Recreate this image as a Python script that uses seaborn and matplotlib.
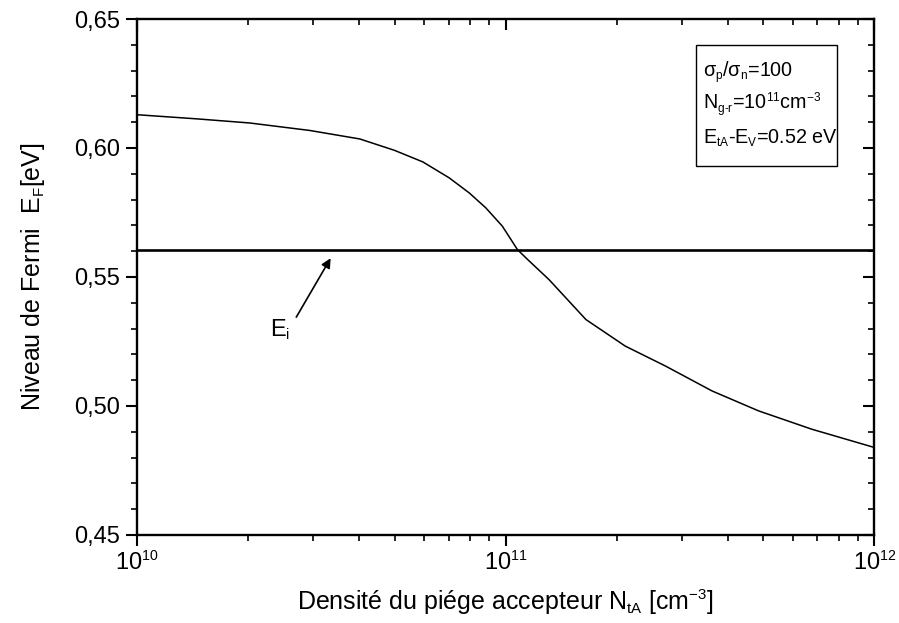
import matplotlib
matplotlib.use('Agg')
import matplotlib.pyplot as plt
import matplotlib.ticker as mticker
import matplotlib._mathtext as mathtext_internals
from matplotlib.patches import Rectangle
import numpy as np
import pandas as pd
import seaborn as sns

# Values
density = [1.0e10, 1.45e10, 2.02e10, 2.94e10, 4.02e10, 4.99e10, 5.96e10, 7.03e10,
           7.96e10, 8.83e10, 9.79e10, 1.076e11, 1.146e11, 1.31e11, 1.65e11,
           2.11e11, 2.71e11, 3.63e11, 4.85e11, 6.76e11, 1.0e12]
fermi_level = [0.6129, 0.6113, 0.6097, 0.6068, 0.6035, 0.5991, 0.5946, 0.5884,
               0.5826, 0.5768, 0.5697, 0.5606, 0.5568, 0.5490, 0.5335,
               0.5232, 0.5155, 0.5058, 0.4981, 0.4910, 0.4839]
intrinsic_level = 0.5605
x_range = [1e10, 1e12]
y_range = [0.45, 0.65]
y_ticks = [0.45, 0.50, 0.55, 0.60, 0.65]
info_lines = [r'$\sigma_p/\sigma_n$=100',
              r'N$_{g\text{-}r}$=10$^{11}$cm$^{-3}$',
              r'E$_{tA}$-E$_V$=0.52 eV']

# smaller sub/superscripts, like the original Origin plot
mathtext_internals.SHRINK_FACTOR = 0.6

sns.set_theme(style='ticks')
plt.rcParams['font.family'] = ['Liberation Sans', 'DejaVu Sans']
plt.rcParams['mathtext.fontset'] = 'custom'
plt.rcParams['mathtext.rm'] = 'Liberation Sans'
plt.rcParams['mathtext.it'] = 'Liberation Sans:italic'
plt.rcParams['mathtext.default'] = 'regular'
plt.rcParams['text.color'] = 'black'
plt.rcParams['axes.labelcolor'] = 'black'

df = pd.DataFrame({'N': density, 'EF': fermi_level})

fig = plt.figure(figsize=(8.99, 6.23), dpi=100)
ax = fig.add_axes([0.1524, 0.1413, 0.8203, 0.8282])

sns.lineplot(data=df, x='N', y='EF', ax=ax, color='black', lw=1.1, estimator=None)
ax.axhline(intrinsic_level, color='black', lw=1.9)

ax.set_xscale('log')
ax.set_xlim(x_range)
ax.set_ylim(y_range)
ax.set_yticks(y_ticks)
ax.yaxis.set_minor_locator(mticker.MultipleLocator(0.01))
ax.xaxis.set_major_locator(mticker.LogLocator(base=10, numticks=5))
ax.xaxis.set_minor_locator(mticker.LogLocator(base=10, subs=np.arange(2, 10), numticks=20))
ax.xaxis.set_minor_formatter(mticker.NullFormatter())
ax.yaxis.set_major_formatter(mticker.FuncFormatter(lambda v, p: f'{v:.2f}'.replace('.', ',')))

for s in ax.spines.values():
    s.set_linewidth(1.7)
    s.set_color('black')

ax.tick_params(which='major', direction='out', length=8, width=1.5, labelsize=17,
               colors='black', labelcolor='black')
ax.tick_params(which='minor', direction='out', length=4.5, width=1.2, colors='black')
ax.tick_params(axis='x', which='major', pad=4)
ax.tick_params(axis='y', which='major', pad=4)

# mirrored inward ticks on top and right
sec_y = ax.secondary_yaxis('right')
sec_y.set_yticks(y_ticks)
sec_y.yaxis.set_minor_locator(mticker.MultipleLocator(0.01))
sec_y.tick_params(which='major', direction='in', length=8, width=1.5, labelright=False, colors='black')
sec_y.tick_params(which='minor', direction='in', length=4.5, width=1.2, colors='black')
sec_x = ax.secondary_xaxis('top')
sec_x.xaxis.set_major_locator(mticker.LogLocator(base=10, numticks=5))
sec_x.xaxis.set_minor_locator(mticker.LogLocator(base=10, subs=np.arange(2, 10), numticks=20))
sec_x.tick_params(which='major', direction='in', length=8, width=1.5, labeltop=False, colors='black')
sec_x.tick_params(which='minor', direction='in', length=4.5, width=1.2, labeltop=False, colors='black')
for sec in (sec_x, sec_y):
    for s in sec.spines.values():
        s.set_visible(False)

ax.set_xlabel(r'Densité du piége accepteur N$_{tA}$ [cm$^{-3}$]', fontsize=18, labelpad=9)
ax.set_ylabel(r'Niveau de Fermi  E$_F$[eV]', fontsize=18, labelpad=20)

# E_i annotation
ax.annotate('', xy=(3.38e10, 0.5582), xytext=(2.68e10, 0.5335),
            arrowprops=dict(arrowstyle='-|>', color='black', lw=1.2, mutation_scale=14))
ax.text(2.44e10, 0.5297, r'E$_i$', fontsize=17, ha='center', va='center')

# info box
ax.add_patch(Rectangle((0.758, 0.715), 0.191, 0.234, transform=ax.transAxes,
                       fill=False, edgecolor='black', lw=1.0))
for i, line in enumerate(info_lines):
    ax.text(0.768, 0.897 - i * 0.064, line, transform=ax.transAxes,
            fontsize=14.2, ha='left', va='center')

fig.savefig('out.png', dpi=100)
